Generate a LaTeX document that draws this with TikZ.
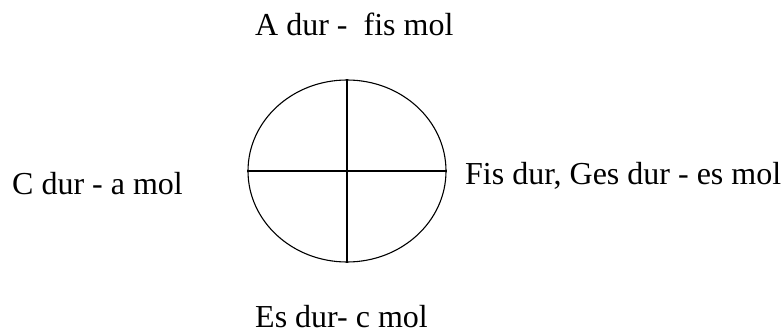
\documentclass[tikz,border=0pt]{standalone}
\usepackage{fontspec}
\setmainfont{Liberation Serif}
\usetikzlibrary{positioning,shapes.geometric}

\begin{document}
\begin{tikzpicture}[x=1pt,y=1pt,
        keyring/.style={draw,ellipse,line width=1.1pt,minimum width=198pt,minimum height=182pt,inner sep=0pt},
        keylabel/.style={anchor=base west,inner sep=0pt,font=\fontsize{32}{38}\selectfont},
        divider/.style={line width=1.1pt}
      ]
        \useasboundingbox (0,0) rectangle (784,335);
        \node[keyring] (ring) at (347,164) {};
        \draw[divider] (ring.north) -- (ring.south);
        \draw[divider] (ring.west) -- (ring.east);
        \node[keylabel] (adur) at (255,299) {A dur - \ fis mol};
        \node[keylabel] (cdur) at (12,140) {C dur - a mol};
        \node[keylabel] (fisdur) at (465,150) {Fis dur, Ges dur - es mol};
        \node[keylabel] (esdur) at (255,8) {Es dur- c mol};
      \end{tikzpicture}
\end{document}
